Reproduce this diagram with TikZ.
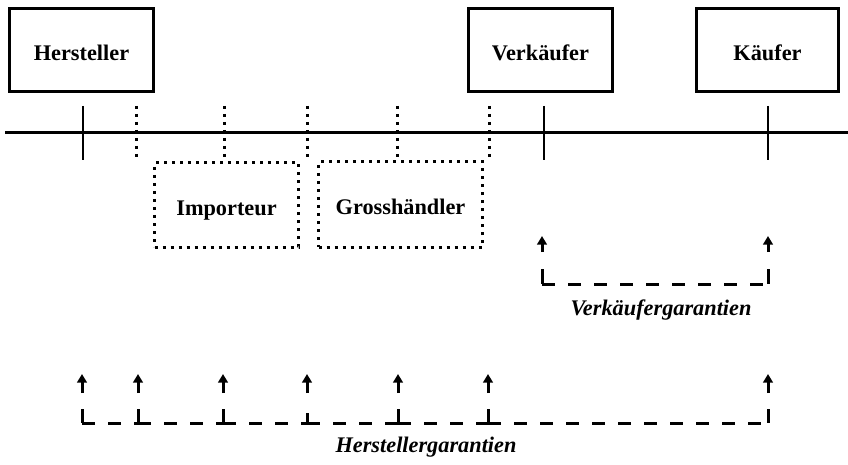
\documentclass[tikz,border=0pt]{standalone}
\usepackage{fontspec}
\setmainfont{Liberation Serif}
\usetikzlibrary{arrows.meta}
\begin{document}
\begin{tikzpicture}[x=1pt,y=-1pt,
  lbl/.style={font=\fontsize{22.3}{26}\selectfont\bfseries},
  ilbl/.style={font=\fontsize{22.3}{26}\selectfont\bfseries\itshape},
  box/.style={draw, line width=3pt, lbl, inner sep=0pt, text depth=0pt, text height=15pt},
  dotbox/.style={draw, line width=3pt, dash pattern=on 3pt off 5pt, lbl, inner sep=0pt, text depth=0pt, text height=15pt},
  axis/.style={line width=3pt},
  tick/.style={line width=2.6pt},
  dottick/.style={line width=3pt, dash pattern=on 3pt off 5pt},
  garr/.style={line width=3pt, -{Triangle[width=9.5pt,length=8.5pt]}},
  gcorner/.style={line width=3pt},
  gline/.style={line width=3pt, dash pattern=on 13pt off 13pt}]
\useasboundingbox (0,0) rectangle (848,465);

% boxes
\node[box, minimum width=144pt, minimum height=83pt] (hersteller) at (81.5,50) {};
\node[box, minimum width=144pt, minimum height=83pt] (verkaeufer) at (540.5,50) {};
\node[box, minimum width=142pt, minimum height=83pt] (kaeufer) at (767.5,50) {};
\node[dotbox, minimum width=144pt, minimum height=84pt] (importeur) at (226.5,205) {};
\node[dotbox, minimum width=164pt, minimum height=85pt] (gross) at (400.5,204.5) {};
\node[lbl, anchor=base] (hersteller-t) at ([yshift=-11pt]hersteller.center) {Hersteller};
\node[lbl, anchor=base] (verkaeufer-t) at ([yshift=-11pt]verkaeufer.center) {Verkäufer};
\node[lbl, anchor=base] (kaeufer-t) at ([yshift=-11pt]kaeufer.center) {Käufer};
\node[lbl, anchor=base] (importeur-t) at ([yshift=-10pt]importeur.center) {Importeur};
\node[lbl, anchor=base] (gross-t) at ([yshift=-10pt]gross.center) {Grosshändler};

% axis
\coordinate (axL) at (5,133);
\coordinate (axR) at (848,133);
\draw[axis] (axL) -- (axR);

% solid ticks
\foreach \n/\x in {th/83, tv/544, tk/768}{
  \coordinate (\n a) at (\x,106);
  \coordinate (\n b) at (\x,160);
  \draw[tick] (\n a) -- (\n b);
}
% dotted ticks
\foreach \n/\x in {d1/136, d2/224, d3/307, d4/397, d5/489}{
  \coordinate (\n a) at (\x,106);
  \coordinate (\n b) at (\x,159);
  \draw[dottick] (\n a) -- (\n b);
}

% Verkaeufergarantien
\foreach \n/\x in {va/542, vb/768}{
  \coordinate (\n s) at (\x,252);
  \coordinate (\n t) at (\x,236);
  \coordinate (\n u) at (\x,269);
  \coordinate (\n c) at (\x,284);
  \draw[garr] (\n s) -- (\n t);
  \draw[gcorner] (\n u) -- (\n c);
}
\draw[gline] (vac) -- (vbc);
\node[ilbl] (vgar) at (661,310) {Verkäufergarantien};

% Herstellergarantien
\foreach \n/\x in {h1/82, h2/138, h3/223, h4/307, h5/398, h6/488, h7/768}{
  \coordinate (\n s) at (\x,393);
  \coordinate (\n t) at (\x,374);
  \coordinate (\n u) at (\x,409);
  \coordinate (\n c) at (\x,423);
  \draw[garr] (\n s) -- (\n t);
}
\foreach \n in {h1,h2,h3,h5,h6,h7}{
  \draw[gcorner] (\n u) -- (\n c);
}
\coordinate (h4m) at (307,413);
\draw[gcorner] (h4m) -- (h4c);
\draw[gline] (h1c) -- (h2c);
\draw[gline] (h2c) -- (h3c);
\draw[gline] (h3c) -- (h4c);
\draw[gline] (h4c) -- (h5c);
\draw[gline] (h5c) -- (h6c);
\draw[gline] (h6c) -- (h7c);
\node[ilbl] (hgar) at (426,447) {Herstellergarantien};
\end{tikzpicture}
\end{document}
